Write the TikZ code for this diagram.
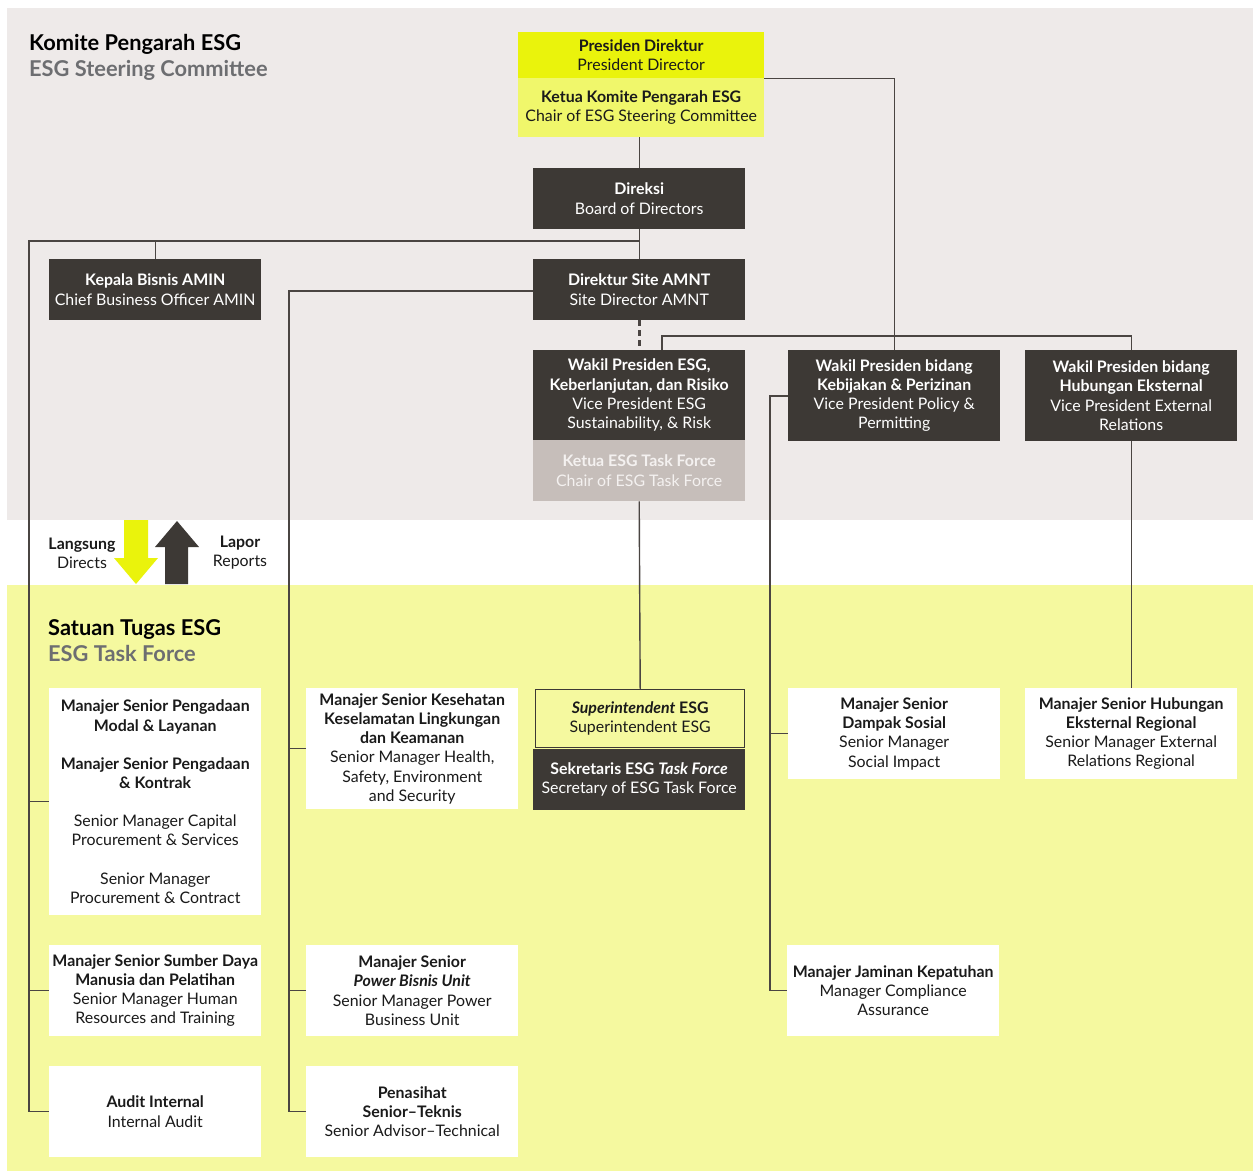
\documentclass[tikz,border=0pt]{standalone}
\usepackage{fontspec}
\setmainfont{Lato}
\usetikzlibrary{calc}
\definecolor{bggray}{HTML}{EEEAE9}
\definecolor{bgyel}{HTML}{F5F99F}
\definecolor{presyel}{HTML}{EAF30C}
\definecolor{chairyel}{HTML}{F0F76B}
\definecolor{dark}{HTML}{3D3935}
\definecolor{ktfgray}{HTML}{C6BEBA}
\definecolor{ktftext}{HTML}{F4F1F0}
\definecolor{titlegray}{HTML}{6D6E71}
\definecolor{linec}{HTML}{4A4542}
\definecolor{txt}{HTML}{1A1A1A}
\pgfdeclarelayer{bg}
\pgfdeclarelayer{lines}
\pgfsetlayers{bg,lines,main}
\tikzset{
  box/.style={anchor=north west, inner sep=0pt, align=center, minimum width=212pt,
    font=\fontsize{15.9}{19.2}\selectfont},
  dk/.style={box, fill=dark, text=white},
  wt/.style={box, fill=white, text=txt},
  conn/.style={draw=linec, line width=1.4pt},
  ttl/.style={anchor=base west, inner sep=0pt, font=\fontsize{21.8}{26}\selectfont\bfseries},
  lbl/.style={inner sep=0pt, align=center, text=txt, font=\fontsize{15.9}{19.2}\selectfont}
}
\begin{document}
\begin{tikzpicture}[x=1pt,y=-1pt]
\useasboundingbox (0,0) rectangle (1253,1171);
\begin{pgfonlayer}{bg}
\fill[white] (0,0) rectangle (1253,1171);
\fill[bggray] (7,8) rectangle (1253,520);
\fill[bgyel] (7,585) rectangle (1253,1171);
\end{pgfonlayer}

% titles
\node[ttl, text=black] (t1) at (29,50) {Komite Pengarah ESG};
\node[ttl, text=titlegray] (t2) at (29,76) {ESG Steering Committee};
\node[ttl, text=black] (t3) at (48,635) {Satuan Tugas ESG};
\node[ttl, text=titlegray] (t4) at (48,661) {ESG Task Force};

% legend
\node[lbl] (lang) at (82,553) {\textbf{Langsung}\\Directs};
\node[lbl] (lapor) at (240,553) {\textbf{Lapor}\\Reports};
\fill[presyel] (124,520) -- (148,520) -- (148,558) -- (158,558) -- (136,584) -- (114,558) -- (124,558) -- cycle;
\fill[dark] (165,584) -- (188,584) -- (188,547) -- (199,547) -- (177,521) -- (155,547) -- (165,547) -- cycle;

% top
\node[box, fill=presyel, text=txt, minimum width=246pt, minimum height=46pt] (pres) at (518,32) {\textbf{Presiden Direktur}\\President Director};
\node[box, fill=chairyel, text=txt, minimum width=246pt, minimum height=59pt] (chair) at (518,78) {\textbf{Ketua Komite Pengarah ESG}\\Chair of ESG Steering Committee};
\node[dk, minimum height=61pt] (dir) at (533,168) {\textbf{Direksi}\\Board of Directors};
\node[dk, minimum height=61pt] (kb) at (49,259) {\textbf{Kepala Bisnis AMIN}\\Chief Business Officer AMIN};
\node[dk, minimum height=61pt] (site) at (533,259) {\textbf{Direktur Site AMNT}\\Site Director AMNT};
\node[dk, minimum height=90pt] (vpesg) at (533,350) {\textbf{Wakil Presiden ESG,}\\\textbf{Keberlanjutan, dan Risiko}\\Vice President ESG\\Sustainability, \& Risk};
\node[box, fill=ktfgray, text=ktftext, minimum height=61pt] (ktf) at (533,440) {\textbf{Ketua ESG Task Force}\\Chair of ESG Task Force};
\node[dk, minimum height=91pt] (vppol) at (788,350) {\textbf{Wakil Presiden bidang}\\\textbf{Kebijakan \& Perizinan}\\Vice President Policy \&\\Permitting};
\node[dk, minimum height=91pt] (vphub) at (1025,350) {\textbf{Wakil Presiden bidang}\\\textbf{Hubungan Eksternal}\\Vice President External\\Relations};

% task force
\node[wt, minimum height=227pt] (peng) at (49,688) {\textbf{Manajer Senior Pengadaan}\\\textbf{Modal \& Layanan}\\[19pt]\textbf{Manajer Senior Pengadaan}\\\textbf{\& Kontrak}\\[19pt]Senior Manager Capital\\Procurement \& Services\\[19pt]Senior Manager\\Procurement \& Contract};
\node[wt, minimum height=91pt] (sdm) at (49,945) {\textbf{Manajer Senior Sumber Daya}\\\textbf{Manusia dan Pelatihan}\\Senior Manager Human\\Resources and Training};
\node[wt, minimum height=91pt] (audit) at (49,1066) {\textbf{Audit Internal}\\Internal Audit};
\node[wt, minimum height=121pt] (kes) at (306,688) {\textbf{Manajer Senior Kesehatan}\\\textbf{Keselamatan Lingkungan}\\\textbf{dan Keamanan}\\Senior Manager Health,\\Safety, Environment\\and Security};
\node[wt, minimum height=91pt] (pow) at (306,945) {\textbf{Manajer Senior}\\\textbf{\textit{Power Bisnis Unit}}\\Senior Manager Power\\Business Unit};
\node[wt, minimum height=91pt] (pen) at (306,1066) {\textbf{Penasihat}\\\textbf{Senior–Teknis}\\Senior Advisor–Technical};
\node[box, fill=bgyel, text=txt, draw=dark, line width=1.4pt, minimum width=209pt, minimum height=58pt] (supt) at (535,689) {\textbf{\textit{Superintendent} ESG}\\Superintendent ESG};
\node[dk, minimum height=61pt] (sek) at (533,749) {\textbf{Sekretaris ESG \textit{Task Force}}\\Secretary of ESG Task Force};
\node[wt, minimum height=91pt] (dampak) at (788,688) {\textbf{Manajer Senior}\\\textbf{Dampak Sosial}\\Senior Manager\\Social Impact};
\node[wt, minimum height=91pt] (jam) at (787,945) {\textbf{Manajer Jaminan Kepatuhan}\\Manager Compliance\\Assurance};
\node[wt, minimum height=91pt] (hubreg) at (1025,688) {\textbf{Manajer Senior Hubungan}\\\textbf{Eksternal Regional}\\Senior Manager External\\Relations Regional};

% junction coordinates
\coordinate (j1) at (639,241);
\coordinate (lx) at (29,241);
\coordinate (mx) at (289,291);
\coordinate (hb) at (662,336);
\coordinate (px) at (770,396);

\begin{pgfonlayer}{lines}
\draw[conn] (pres.south east) -| (vppol.north);
\draw[conn] (dir.north |- chair.south) -- (dir.north);
\draw[conn] (dir.south) -- (site.north);
\draw[conn] (j1) -| (kb.north);
\draw[conn] (j1) -- (lx) |- (audit.west);
\draw[conn] (lx) |- (peng.west);
\draw[conn] (lx) |- (sdm.west);
\draw[conn] (site.west |- mx) -- (mx) |- (pen.west);
\draw[conn] (mx) |- (kes.west);
\draw[conn] (mx) |- (pow.west);
\draw[draw=linec, line width=2.6pt, dash pattern=on 6pt off 4pt] (site.south) -- (vpesg.north);
\draw[conn] (vpesg.north -| hb) -- (hb) -| (vphub.north);
\draw[conn] (ktf.south) -- (supt.north);
\draw[conn] (vppol.west |- px) -- (px) |- (jam.west);
\draw[conn] (px) |- (dampak.west);
\draw[conn] (vphub.south) -- (hubreg.north);
\end{pgfonlayer}
\end{tikzpicture}
\end{document}
